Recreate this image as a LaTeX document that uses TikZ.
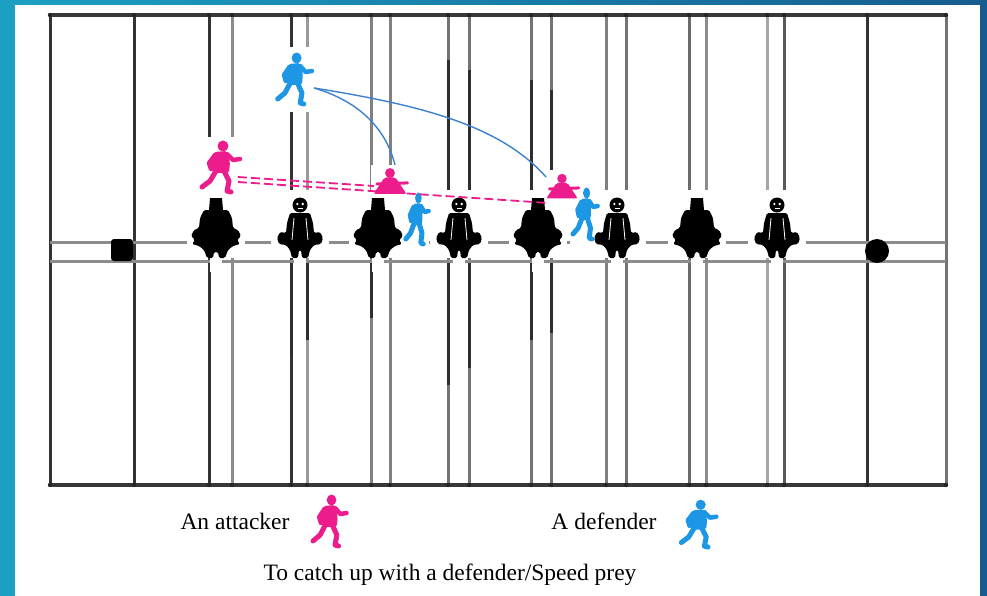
\documentclass[tikz,border=0pt]{standalone}
\usepackage{fontspec}
\setmainfont{Liberation Serif}
\definecolor{attpink}{RGB}{236,28,140}
\definecolor{defblue}{RGB}{30,150,230}
\definecolor{trailblue}{RGB}{60,130,205}
\definecolor{frameteal}{RGB}{27,160,195}
\definecolor{frameblue}{RGB}{22,92,142}
\tikzset{
  rod/.style={line width=3pt},
  rim/.style={line width=4pt, draw=black!78},
  lane/.style={line width=3pt, draw=black!45},
  trail/.style={draw=trailblue, line width=1.4pt},
  chase/.style={draw=attpink, line width=1.8pt, dash pattern=on 9pt off 4pt},
  lbl/.style={font=\fontsize{23.5}{28}\selectfont, inner sep=0pt},
  limb/.style={line cap=round, line join=round},
  % running player, side view, facing right
  runner/.pic={
    \fill (4,-22) circle (5.5);
    \fill[rounded corners=2pt] (-5,-16) -- (8,-17) -- (11,-6) -- (10,5) -- (-6,5) -- (-9,-5) -- cycle;
    \draw[limb, line width=4.5pt] (8,-14) -- (14,-8) -- (21,-9);
    \draw[limb, line width=4.5pt] (-4,-13) -- (-10,-5) -- (-8,1);
    \draw[limb, line width=5pt] (5,3) -- (10,13) -- (8,23) -- (12,24);
    \draw[limb, line width=5pt] (-3,3) -- (-9,13) -- (-17,19);
  },
  % crouching player with arms out
  crouch/.pic={
    \fill (0,-10) circle (4.5);
    \fill[rounded corners=2pt] (-5,-6) -- (5,-6) -- (15,9) -- (-15,9) -- cycle;
    \draw[limb, line width=3pt] (-12,0) -- (16,-1);
  },
  % sitting chaser seen from behind
  sitterback/.pic={
    \fill (-6,-30) -- (6,-30) -- (7,-18) -- (-7,-18) -- cycle;
    \fill[rounded corners=1.5pt] (-12,-18) -- (12,-18) -- (16,-10) -- (17,0) -- (22,2) -- (25,8) -- (21,12) -- (24,16) -- (17,18) -- (12,22) -- (9,30) -- (3,30) -- (2,24) -- (-2,24) -- (-3,30) -- (-9,30) -- (-12,22) -- (-17,18) -- (-24,16) -- (-21,12) -- (-25,8) -- (-22,2) -- (-17,0) -- (-16,-10) -- cycle;
  },
  % sitting chaser seen from the front
  sitterfront/.pic={
    \fill (0,-23) circle (7.5);
    \fill[white] (-2.7,-24) circle (1.3) (2.7,-24) circle (1.3);
    \draw[white, line width=1pt] (-2.5,-19.5) -- (2.5,-19.5);
    \fill[rounded corners=1.5pt] (-10,-15) -- (10,-15) -- (13,-5) -- (14,5) -- (20,4) -- (23,10) -- (21,16) -- (14,17) -- (10,22) -- (8,30) -- (2,30) -- (1,22) -- (-1,22) -- (-2,30) -- (-8,30) -- (-10,22) -- (-14,17) -- (-21,16) -- (-23,10) -- (-20,4) -- (-14,5) -- (-13,-5) -- cycle;
    \draw[white, line width=0.8pt] (-6,-10) -- (-8,12) (6,-10) -- (8,12);
  }
}
\begin{document}
\begin{tikzpicture}[x=1pt,y=-1pt]
\useasboundingbox (0,0) rectangle (987,596);
% slide frame
\shade[left color=frameteal, right color=frameblue] (0,0) rectangle (987,596);
\fill[white] (15,5) rectangle (980,596);

% cross lanes and side lines
\foreach \x/\c in {50/black!80,134/black!80,209/black!80,232/black!45,291/black!80,307/black!40,
                   371/black!50,390/black!50,448/black!55,469/black!55,531/black!55,551/black!55,
                   606/black!50,626/black!55,689/black!58,706/black!45,767/black!35,784/black!65,
                   867/black!80,946/black!55}
  \draw[rod, draw=\c] (\x,15) -- (\x,485);
\foreach \x/\a/\b in {448/60/195,469/70/195,531/80/195,551/90/170,291/262/355,307/262/340,
                      371/262/318,448/262/385,469/262/368,531/262/340,551/262/333}
  \draw[rod, draw=black!82] (\x,\a) -- (\x,\b);

% central lane and end lines
\draw[lane] (50,242) -- (946,242);
\draw[lane] (50,261) -- (946,261);
\draw[rim] (50,15) -- (946,15);
\draw[rim] (50,485) -- (946,485);
\foreach \x in {50,134,209,232,291,307,371,390,448,469,531,551,606,626,689,706,767,784,867,946}{
  \fill[black!85] (\x,15) circle (2.2);
  \fill[black!85] (\x,485) circle (2.2);
}

% posts
\fill[black, rounded corners=3pt] (111,239) rectangle (133,261);
\fill[black] (877,251) circle (12);

% clear space behind the players
\foreach \x in {216,300,378,459,538,617,697,777}{
  \fill[white] (\x-29,190) rectangle (\x+29,258);
  \fill[white] (\x-6,258) rectangle (\x+6,272);
}
\fill[white] (196,137) rectangle (244,198);
\fill[white] (270,47) rectangle (318,112);
\fill[white] (371,165) rectangle (408,196);
\fill[white] (545,170) rectangle (580,202);
\fill[white] (404,190) rectangle (429,250);
\fill[white] (570,186) rectangle (599,246);

% sitting chasers
\foreach \x in {216,378,538,697}
  \pic[black] at (\x,228) {sitterback};
\foreach \x in {300,459,617,777}
  \pic[black] at (\x,228) {sitterfront};

% runners on the field
\pic[color=attpink] at (219,168) {runner};
\pic[color=defblue, xscale=0.9] at (293,80) {runner};
\pic[color=attpink, scale=1.1] at (390,184) {crouch};
\pic[color=attpink, scale=1.05] at (562,189) {crouch};
\pic[color=defblue, xscale=0.6] at (416,220) {runner};
\pic[color=defblue, xscale=0.65] at (584,215) {runner};

% paths
\coordinate (dstart) at (314,88);
\coordinate (dend1) at (395,165);
\coordinate (dend2) at (546,177);
\draw[trail] (dstart) .. controls (355,100) and (385,125) .. (dend1);
\draw[trail] (dstart) .. controls (420,105) and (500,125) .. (dend2);
\coordinate (astart1) at (238,177);
\coordinate (astart2) at (238,182);
\coordinate (aend1) at (374,186);
\coordinate (aend2) at (548,203);
\draw[chase] (astart1) -- (aend1);
\draw[chase] (astart2) -- (aend2);

% legend
\node[lbl, anchor=base] (attlbl) at (235,529) {An attacker};
\pic[color=attpink, xscale=0.88] at (328,522) {runner};
\node[lbl, anchor=base] (deflbl) at (604,529) {A defender};
\pic[color=defblue, xscale=0.92, yscale=0.92] at (697,525) {runner};
\node[lbl, anchor=base] (caption) at (450,580) {To catch up with a defender/Speed prey};
\end{tikzpicture}
\end{document}
